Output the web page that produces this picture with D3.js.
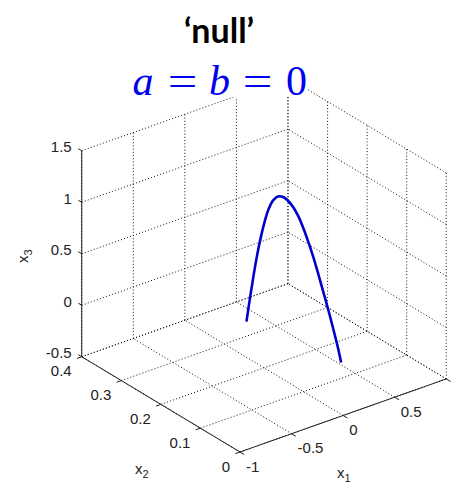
<!DOCTYPE html>
<html>
<head>
<meta charset="utf-8">
<script src="https://cdn.jsdelivr.net/npm/d3@7"></script>
<style>
  html, body { margin: 0; padding: 0; background: #fff; }
  svg { display: block; }
</style>
</head>
<body>
<div id="chart"></div>
<script>
// Axis ticks and labels (the tick at x1 = 1 carries no label)
const x1Ticks = [-1, -0.5, 0, 0.5, 1];
const x1TickLabels = ["-1", "-0.5", "0", "0.5", ""];
const x2Ticks = [0, 0.1, 0.2, 0.3, 0.4];
const x2TickLabels = ["0", "0.1", "0.2", "0.3", "0.4"];
const x3Ticks = [-0.5, 0, 0.5, 1, 1.5];
const x3TickLabels = ["-0.5", "0", "0.5", "1", "1.5"];

// Trajectory samples (x1, x2, x3)
const x1Vals = [-0.477, -0.441, -0.407, -0.373, -0.339, -0.301, -0.262, -0.214, -0.165, -0.117, -0.069,
                -0.020, 0.028, 0.076, 0.125, 0.173, 0.221, 0.270, 0.318, 0.366, 0.405, 0.441];
const x2Vals = [0.12, 0.12, 0.12, 0.12, 0.12, 0.12, 0.12, 0.12, 0.12, 0.12, 0.12,
                0.12, 0.12, 0.12, 0.12, 0.12, 0.12, 0.12, 0.12, 0.12, 0.12, 0.12];
const x3Vals = [0.303, 0.530, 0.732, 0.914, 1.067, 1.209, 1.321, 1.392, 1.409, 1.383, 1.327,
                1.247, 1.143, 1.010, 0.856, 0.694, 0.512, 0.320, 0.129, -0.073, -0.242, -0.419];

const titleText = "\u2018null\u2019";

const W = 452, H = 484;
const svg = d3.select("#chart").append("svg")
  .attr("width", W).attr("height", H)
  .style("background", "#fff");

// Orthographic 3-D view
const az = 37.5 * Math.PI / 180, el = 27.5 * Math.PI / 180;
const boxSize = 260, boxHeight = 206;
const origin = [240, 452];
const ex = [boxSize * Math.cos(az), -boxSize * Math.sin(az) * Math.sin(el)];
const ey = [-boxSize * Math.sin(az), -boxSize * Math.cos(az) * Math.sin(el)];

const s1 = d3.scaleLinear().domain([-1, 1]).range([0, 1]);
const s2 = d3.scaleLinear().domain([0, 0.4]).range([0, 1]);
const s3 = d3.scaleLinear().domain([-0.5, 1.5]).range([0, boxHeight]);

function proj(a, b, c) {
  const u = s1(a), v = s2(b);
  return [origin[0] + u * ex[0] + v * ey[0], origin[1] + u * ex[1] + v * ey[1] - s3(c)];
}

const [x1Min, x1Max] = s1.domain();
const [x2Min, x2Max] = s2.domain();
const [x3Min, x3Max] = s3.domain();

const line = d3.line();
const gridG = svg.append("g")
  .attr("fill", "none")
  .attr("stroke", "#111")
  .attr("stroke-width", 1)
  .attr("stroke-dasharray", "1,2.2");

function seg(p, q) {
  gridG.append("path").attr("d", line([p, q]));
}

// floor grid
x1Ticks.forEach(t => seg(proj(t, x2Min, x3Min), proj(t, x2Max, x3Min)));
x2Ticks.forEach(t => seg(proj(x1Min, t, x3Min), proj(x1Max, t, x3Min)));
// back wall at x2 = max
x1Ticks.forEach(t => seg(proj(t, x2Max, x3Min), proj(t, x2Max, x3Max)));
x3Ticks.forEach(t => seg(proj(x1Min, x2Max, t), proj(x1Max, x2Max, t)));
// side wall at x1 = max
x2Ticks.forEach(t => seg(proj(x1Max, t, x3Min), proj(x1Max, t, x3Max)));
x3Ticks.forEach(t => seg(proj(x1Max, x2Min, t), proj(x1Max, x2Max, t)));

// axis lines
const axisG = svg.append("g").attr("stroke", "#222").attr("stroke-width", 1).attr("fill", "none");
axisG.append("path").attr("d", line([proj(x1Min, x2Min, x3Min), proj(x1Max, x2Min, x3Min)]));
axisG.append("path").attr("d", line([proj(x1Min, x2Min, x3Min), proj(x1Min, x2Max, x3Min)]));
axisG.append("path").attr("d", line([proj(x1Min, x2Max, x3Min), proj(x1Min, x2Max, x3Max)]));

function unit(v) { const l = Math.hypot(v[0], v[1]); return [v[0] / l, v[1] / l]; }
const tickLen = 5;
const uex = unit(ex), uey = unit(ey);

const labelFont = "'Liberation Sans', Arial, sans-serif";
const labelG = svg.append("g")
  .attr("font-family", labelFont)
  .attr("font-size", 15)
  .attr("fill", "#222");

// x1 axis ticks and labels
x1Ticks.forEach((t, i) => {
  const p = proj(t, x2Min, x3Min);
  axisG.append("path").attr("d", line([p, [p[0] - uey[0] * tickLen, p[1] - uey[1] * tickLen]]));
  if (x1TickLabels[i]) {
    labelG.append("text").attr("x", p[0] + 6).attr("y", p[1] + 14)
      .attr("dominant-baseline", "central").attr("text-anchor", "start").text(x1TickLabels[i]);
  }
});
// x2 axis ticks and labels
x2Ticks.forEach((t, i) => {
  const p = proj(x1Min, t, x3Min);
  axisG.append("path").attr("d", line([p, [p[0] - uex[0] * tickLen, p[1] - uex[1] * tickLen]]));
  labelG.append("text").attr("x", p[0] - 10).attr("y", p[1] + 14)
    .attr("dominant-baseline", "central").attr("text-anchor", "end").text(x2TickLabels[i]);
});
// x3 axis ticks and labels
x3Ticks.forEach((t, i) => {
  const p = proj(x1Min, x2Max, t);
  axisG.append("path").attr("d", line([p, [p[0] + uey[0] * tickLen * 0.8, p[1] + uey[1] * tickLen * 0.8]]));
  labelG.append("text").attr("x", p[0] - 10).attr("y", p[1] - 4)
    .attr("dominant-baseline", "central").attr("text-anchor", "end").text(x3TickLabels[i]);
});

// axis titles
function subLabel(g, main, sub) {
  const t = g.append("text").attr("font-family", labelFont).attr("fill", "#222").attr("font-size", 15);
  t.append("tspan").text(main);
  t.append("tspan").attr("font-size", 11).attr("dy", 4).text(sub);
  return t;
}
subLabel(svg, "x", "1").attr("x", 337).attr("y", 478);
subLabel(svg, "x", "2").attr("x", 135).attr("y", 474);
subLabel(svg, "x", "3").attr("transform", "translate(28,263) rotate(-90)");

// trajectory
const pts = x1Vals.map((v, i) => proj(v, x2Vals[i], x3Vals[i]));
svg.append("path")
  .attr("d", d3.line().curve(d3.curveCatmullRom)(pts))
  .attr("fill", "none")
  .attr("stroke", "#0000cc")
  .attr("stroke-width", 2.6)
  .attr("stroke-linecap", "butt");

// titles
svg.append("rect").attr("x", 128).attr("y", 55).attr("width", 180).attr("height", 42).attr("fill", "#fff");
svg.append("text")
  .attr("x", 219).attr("y", 43)
  .attr("text-anchor", "middle")
  .attr("font-family", "Lato, 'Open Sans', sans-serif")
  .attr("font-weight", 700)
  .attr("font-size", 34)
  .attr("fill", "#000")
  .text(titleText);

// equation, one glyph per centred slot
const eqGlyphs = [
  { t: "a", italic: true, cx: 143 },
  { t: "=", italic: false, cx: 182.5 },
  { t: "b", italic: true, cx: 219.5 },
  { t: "=", italic: false, cx: 257.5 },
  { t: "0", italic: false, cx: 296.5 }
];
const eqG = svg.append("g")
  .attr("font-family", "'Liberation Serif', 'DejaVu Serif', serif")
  .attr("font-size", 42)
  .attr("fill", "#0000f0");
eqGlyphs.forEach(g => {
  const txt = eqG.append("text")
    .attr("x", g.cx).attr("y", 95)
    .attr("text-anchor", "middle")
    .attr("font-style", g.italic ? "italic" : "normal")
    .text(g.t);
  if (g.t === "=") txt.attr("transform", `translate(${g.cx},0) scale(1.25,1) translate(${-g.cx},0)`);
});
</script>
</body>
</html>
